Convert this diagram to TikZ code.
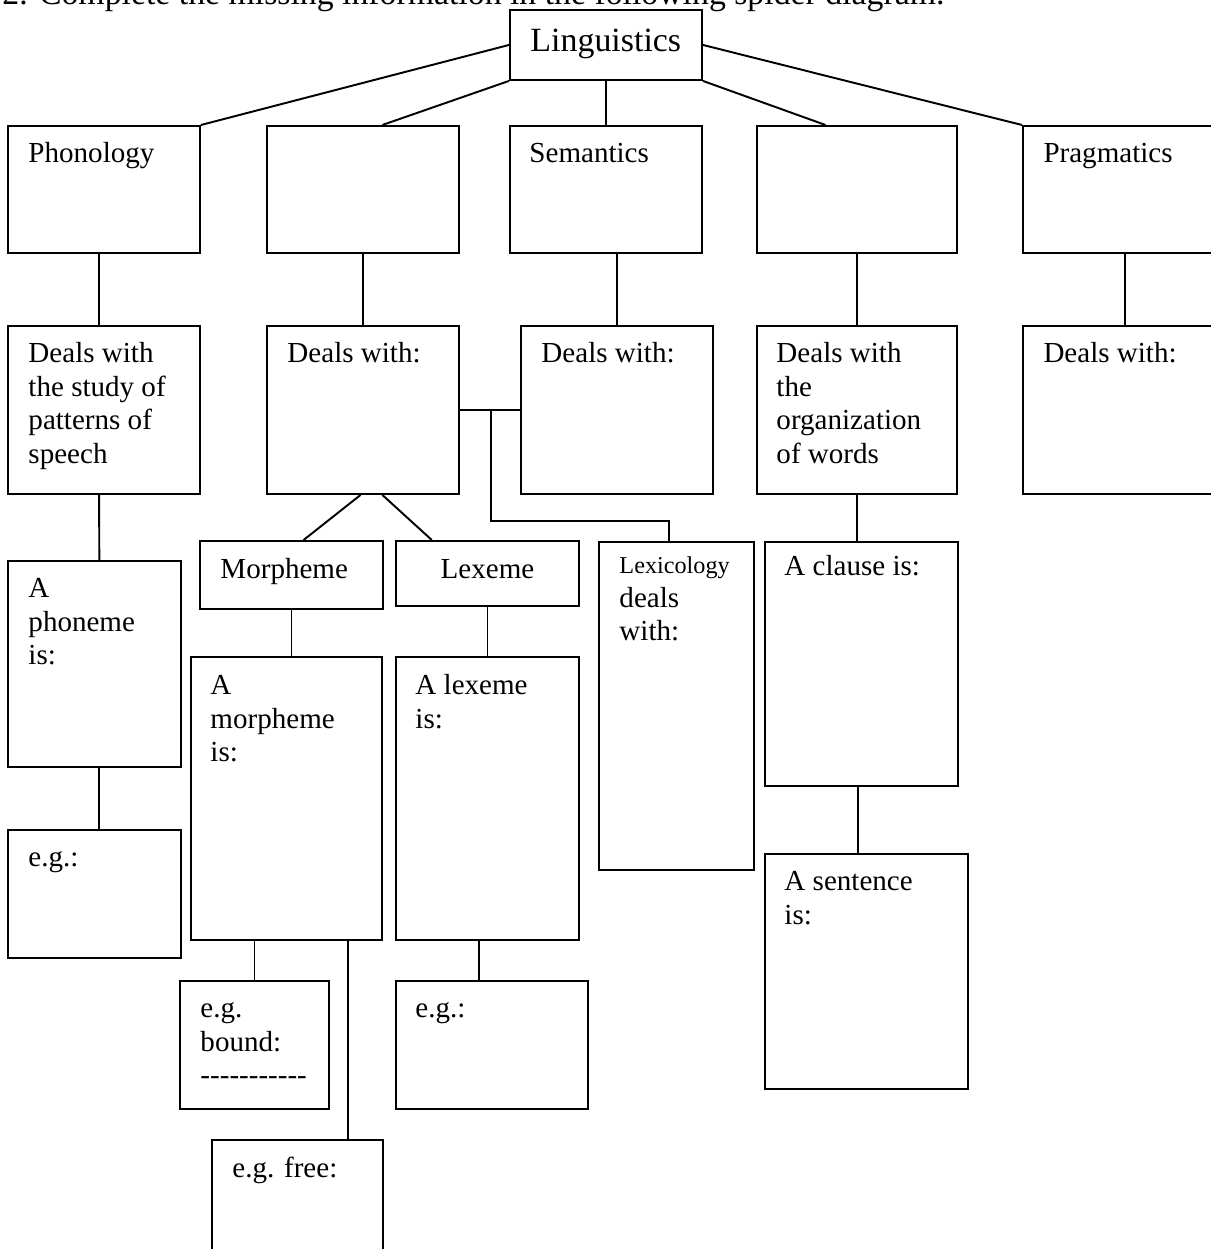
\documentclass[tikz,border=0pt]{standalone}
\usepackage{fontspec}
\setmainfont{Liberation Serif}
\newfontfamily\nolig{Liberation Serif}

\tikzset{
  box/.style 2 args={draw, line width=0.8pt, anchor=north west, inner sep=0pt,
    minimum width=#1*0.413pt, minimum height=#2*0.413pt},
  txt/.style={anchor=north west, inner sep=0pt, align=left,
    font=\fontsize{12}{13.8}\selectfont},
  link/.style={line width=0.8pt},
}

\begin{document}
\begin{tikzpicture}[x=0.413pt, y=-0.413pt]
\useasboundingbox (0,0) rectangle (1210,1249);

% heading, cut by the top edge
\node[anchor=base west, inner sep=0pt, font=\fontsize{13.95}{15.5}\selectfont] (heading) at (2,5)
  {2. Complete the missing information in the following spider diagram.};

% root
\node[box={192}{70}] (ling) at (509,9) {};
\node[txt, font=\fontsize{14}{16.1}\selectfont] (lingtxt) at ([shift={(21,15)}]ling.north west) {\strut Linguistics};

% first row
\node[box={192}{127}] (phon) at (7,125) {};
\node[txt] (phontxt) at ([shift={(21,14)}]phon.north west) {\strut Phonology};
\node[box={192}{127}] (morph) at (266,125) {};
\node[box={192}{127}] (sem) at (509,125) {};
\node[txt] (semtxt) at ([shift={(20,14)}]sem.north west) {\strut Semantics};
\node[box={200}{127}] (synt) at (756,125) {};
\node[box={204}{127}] (prag) at (1022,125) {};
\node[txt] (pragtxt) at ([shift={(21,14)}]prag.north west) {\strut Pragmatics};

% second row
\node[box={192}{168}] (phondeal) at (7,325) {};
\node[txt] (phondealtxt) at ([shift={(21,14)}]phondeal.north west)
  {\strut Deals with\\the study of\\patterns of\\speech};
\node[box={192}{168}] (morphdeal) at (266,325) {};
\node[txt] (morphdealtxt) at ([shift={(21,14)}]morphdeal.north west) {\strut Deals with:};
\node[box={192}{168}] (semdeal) at (520,325) {};
\node[txt] (semdealtxt) at ([shift={(21,14)}]semdeal.north west) {\strut Deals with:};
\node[box={200}{168}] (syntdeal) at (756,325) {};
\node[txt] (syntdealtxt) at ([shift={(20,14)}]syntdeal.north west)
  {\strut Deals with\\the\\organization\\of words};
\node[box={204}{168}] (pragdeal) at (1022,325) {};
\node[txt] (pragdealtxt) at ([shift={(21,14)}]pragdeal.north west) {\strut Deals with:};

% third row
\node[box={173}{206}] (phoneme) at (7,560) {};
\node[txt] (phonemetxt) at ([shift={(21,14)}]phoneme.north west) {\strut A\\phoneme\\is:};
\node[box={183}{68}] (morpheme) at (199,540) {};
\node[txt] (morphemetxt) at ([shift={(21,15)}]morpheme.north west) {\strut Morpheme};
\node[box={183}{65}] (lexeme) at (395,540) {};
\node[txt, anchor=north] (lexemetxt) at ([yshift=-15*0.413pt]lexeme.north) {\strut Lexeme};
\node[box={155}{328}] (lexi) at (598,541) {};
\node[txt] (lexitxt) at ([shift={(21,9)}]lexi.north west)
  {\strut{\fontsize{10}{13.8}\selectfont Lexicology}\\deals\\with:};
\node[box={193}{244}] (clause) at (764,541) {};
\node[txt] (clausetxt) at ([shift={(20,11)}]clause.north west) {\strut A clause is:};

% fourth row
\node[box={173}{128}] (phoneg) at (7,829) {};
\node[txt] (phonegtxt) at ([shift={(21,14)}]phoneg.north west) {\strut e.g.:};
\node[box={191}{283}] (morphis) at (190,656) {};
\node[txt] (morphistxt) at ([shift={(20,15)}]morphis.north west) {\strut A\\morpheme\\is:};
\node[box={183}{283}] (lexis) at (395,656) {};
\node[txt] (lexistxt) at ([shift={(20,15)}]lexis.north west) {\strut A lexeme\\is:};
\node[box={203}{235}] (sentence) at (764,853) {};
\node[txt] (sentencetxt) at ([shift={(20,14)}]sentence.north west) {\strut A sentence\\is:};

% fifth row
\node[box={149}{128}] (bound) at (179,980) {};
\node[txt] (boundtxt) at ([shift={(21,14)}]bound.north west) {\strut e.g.\\bound:\\{\nolig -----------}};
\node[box={192}{128}] (lexeg) at (395,980) {};
\node[txt] (lexegtxt) at ([shift={(20,14)}]lexeg.north west) {\strut e.g.:};
\node[box={171}{140}] (free) at (211,1139) {};
\node[txt] (freetxt) at ([shift={(21,15)}]free.north west) {\strut e.g. free:};

% connectors
\draw[link] (ling.west) -- (phon.north east);
\draw[link] (ling.south west) -- ([xshift=8pt]morph.north);
\draw[link] (ling.south) -- (sem.north);
\draw[link] (ling.south east) -- ([xshift=-13pt]synt.north);
\draw[link] (ling.east) -- (prag.north west);

\draw[link] ([xshift=-2pt]phon.south) -- ([xshift=-2pt]phondeal.north);
\draw[link] (morph.south) -- (morphdeal.north);
\draw[link] (sem.south -| semdeal.north) -- (semdeal.north);
\draw[link] (synt.south) -- (syntdeal.north);
\draw[link] (prag.south) -- (pragdeal.north);

\draw[link] ([xshift=-2pt]phondeal.south) -- ([xshift=2pt]phoneme.north);
\draw[link] ([xshift=-1pt]morphdeal.south) -- ([xshift=5pt]morpheme.north);
\draw[link] ([xshift=8pt]morphdeal.south) -- ([xshift=-23pt]lexeme.north);
\draw[link] (morphdeal.east) -- (semdeal.west);
\coordinate (lexjoin) at ([xshift=13pt]morphdeal.east);
\draw[link] (lexjoin) -- ++(0,111) -| ([xshift=-3pt]lexi.north);
\draw[link] (syntdeal.south) -- (syntdeal.south |- clause.north);

\draw[link] ([xshift=2pt]phoneme.south) -- ([xshift=2pt]phoneg.north);
\draw[link] (morpheme.south) -- (morpheme.south |- morphis.north);
\draw[link] (lexeme.south) -- (lexis.north);
\draw[link] ([xshift=-1.5pt]clause.south) -- ([xshift=-1.5pt]clause.south |- sentence.north);

\draw[link] (bound.north |- morphis.south) -- (bound.north);
\draw[link] ([xshift=21pt]free.north |- morphis.south) -- ([xshift=21pt]free.north);
\draw[link] ([xshift=-3.5pt]lexis.south) -- ([xshift=-3.5pt]lexis.south |- lexeg.north);
\end{tikzpicture}
\end{document}
